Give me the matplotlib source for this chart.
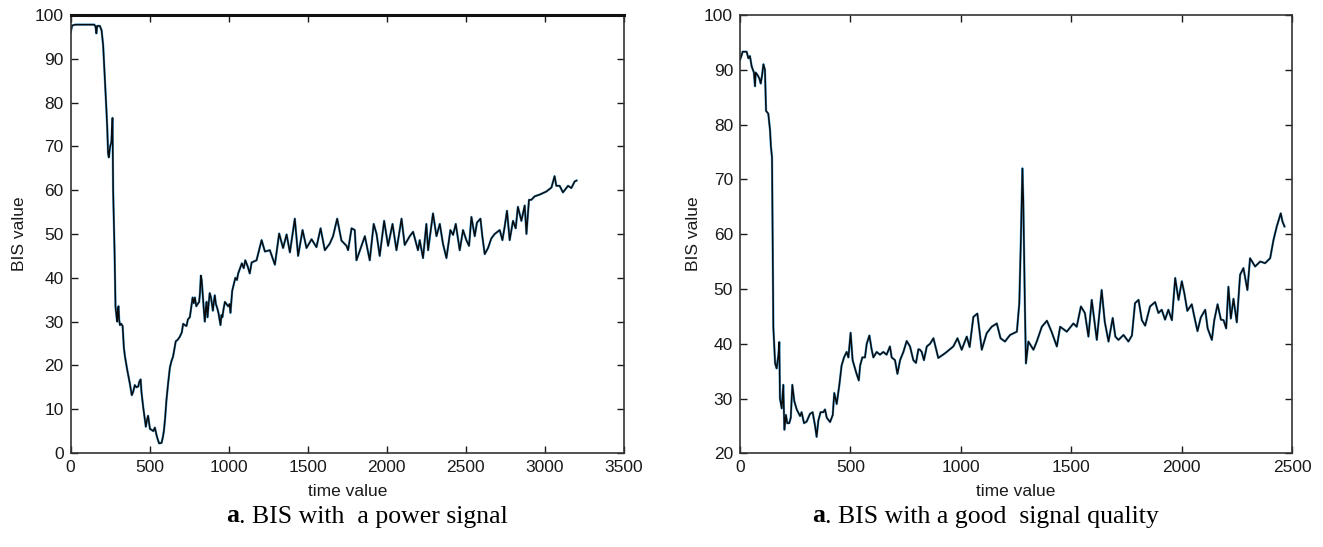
import matplotlib
matplotlib.use("Agg")
import matplotlib.pyplot as plt

# BIS con segnale di potenza (pannello sinistro)
t_power = [0, 10, 30, 150, 158, 163, 168, 185, 196, 206, 216, 227, 232, 237, 242, 250, 258, 265, 269, 278,
           284, 291, 295, 299, 303, 307, 312, 320, 329, 337, 344, 358, 375, 387, 396, 406, 416, 428, 434, 443,
           448, 459, 476, 483, 490, 496, 502, 512, 523, 533, 544, 552, 560, 575, 583, 590, 598, 606, 617, 628,
           638, 648, 665, 676, 690, 703, 712, 722, 733, 742, 754, 764, 772, 779, 786, 795, 803, 813, 818, 824,
           829, 834, 842, 849, 855, 860, 866, 873, 880, 888, 894, 900, 906, 912, 919, 928, 935, 942, 948, 954,
           960, 968, 976, 986, 996, 1005, 1011, 1018, 1022, 1032, 1042, 1052, 1060, 1070, 1083, 1095, 1105, 1120,
           1133, 1145, 1176, 1208, 1229, 1260, 1292, 1319, 1344, 1366, 1387, 1418, 1439, 1467, 1492, 1524, 1555,
           1581, 1608, 1639, 1660, 1686, 1713, 1745, 1755, 1777, 1797, 1808, 1840, 1861, 1892, 1917, 1935, 1955,
           1983, 2008, 2036, 2061, 2093, 2113, 2145, 2166, 2197, 2208, 2229, 2250, 2261, 2292, 2314, 2335, 2355,
           2377, 2402, 2419, 2436, 2461, 2482, 2503, 2520, 2535, 2556, 2570, 2592, 2604, 2619, 2640, 2661, 2682,
           2714, 2731, 2745, 2760, 2777, 2798, 2815, 2829, 2851, 2872, 2883, 2899, 2914, 2935, 2967, 3009, 3041,
           3061, 3072, 3093, 3114, 3146, 3167, 3188, 3200]
bis_power = [96, 97.6, 97.8, 97.8, 97.3, 95.8, 97.5, 97.5, 96.5, 93, 86, 78, 74, 68.4, 67.5, 70, 71, 76.5, 60, 46,
             33.4, 31, 30, 33, 33.5, 30.5, 29.2, 29.5, 29, 24, 22, 19, 15.8, 13.2, 14, 15.5, 15, 15.2, 16.2, 16.8,
             14, 10.5, 6, 7.5, 8.5, 7, 5.5, 5.3, 5, 5.8, 4, 3, 2.2, 2.3, 3.5, 5, 8, 12, 16, 19.5,
             21, 22, 25.5, 25.8, 26.5, 27.5, 29.5, 29.2, 29, 30.5, 31, 33.5, 35.5, 34.2, 35.5, 33.5, 34, 34.5, 36.5, 40.5,
             39.5, 37, 33, 30, 33, 34.5, 31, 34, 36.5, 35.5, 34, 32.5, 34.5, 36, 34, 33, 32, 30.5, 29.2, 31.5,
             31, 33, 34.5, 34, 33.5, 34, 32, 35, 37, 38.5, 40, 39.5, 41, 42, 43.3, 42.2, 44, 42.6,
             41, 43.5, 44, 48.6, 46, 46.3, 43, 50.1, 46.8, 49.9, 45.8, 53.5, 45, 50.9, 46.8, 48.8, 47,
             51.3, 46.3, 47.8, 49.5, 53.5, 48.5, 47.3, 46.3, 51.3, 50.9, 44, 47.3, 49.5, 44, 52.3, 50, 45,
             53, 47.3, 52.3, 46.3, 53.5, 47.5, 49.5, 50.5, 46.3, 48.6, 44.5, 52.3, 46.3, 54.7, 49.5, 52.3, 47.8,
             44.5, 50.9, 49.8, 52.3, 46.3, 50.9, 48.6, 47.3, 53.9, 49.5, 52.6, 53.5, 49.5, 45.4, 46.8, 49, 50,
             50.9, 48.6, 51.6, 55.3, 48.6, 53, 51.3, 56.2, 53, 56.5, 50, 57.8, 57.8, 58.6, 59, 59.7, 60.6,
             63.2, 61, 61, 59.5, 61, 60.5, 62, 62.2]

# BIS con buona qualita del segnale (pannello destro)
t_good = [0, 6, 12, 30, 38, 45, 53, 63, 68, 71, 80, 88, 94, 100, 106, 113, 118, 128, 136, 140,
          145, 151, 159, 166, 174, 178, 181, 189, 196, 201, 208, 214, 223, 230, 237, 246, 257, 272, 279, 290,
          302, 317, 329, 340, 347, 355, 365, 377, 385, 393, 408, 420, 427, 438, 450, 460, 471, 483, 491, 501,
          510, 521, 528, 538, 544, 554, 566, 574, 586, 596, 604, 619, 634, 649, 664, 679, 687, 702, 713, 725,
          740, 755, 770, 785, 797, 808, 815, 823, 833, 846, 861, 876, 898, 930, 966, 985, 1004, 1027, 1040, 1057,
          1075, 1095, 1117, 1140, 1163, 1180, 1200, 1223, 1254, 1265, 1272, 1279, 1283, 1290, 1295, 1306, 1329, 1344,
          1367, 1390, 1412, 1435, 1450, 1480, 1510, 1525, 1544, 1562, 1578, 1593, 1605, 1616, 1638, 1652, 1669, 1688,
          1700, 1714, 1737, 1759, 1775, 1789, 1805, 1820, 1835, 1857, 1880, 1895, 1910, 1925, 1940, 1956, 1971, 1986,
          2001, 2012, 2026, 2046, 2061, 2072, 2087, 2107, 2118, 2137, 2148, 2163, 2178, 2190, 2202, 2212, 2223, 2235,
          2250, 2265, 2280, 2298, 2310, 2333, 2356, 2378, 2401, 2416, 2431, 2449, 2457, 2466]
bis_good = [91.8, 92.5, 93.3, 93.3, 92.1, 92.5, 90.6, 89.5, 87, 89.5, 89, 88.4, 87.5, 89, 91, 90, 82.5, 82, 79, 76,
            74, 43, 36.4, 35.5, 38, 40.3, 30, 28.2, 32.5, 24.3, 27, 25.5, 25.5, 26.5, 32.5, 29.5, 28, 26.8, 27.5, 25.5,
            25.8, 27.2, 27.5, 25, 23, 26, 27.5, 27.5, 28, 26.5, 25.7, 27, 31, 29, 32.5, 36, 37.5, 38.5, 37.5, 42,
            37, 35.5, 34.5, 33.3, 36, 37.5, 37.5, 40, 41.5, 39, 37.5, 38.5, 38, 38.5, 38, 39.5, 37.5, 37, 34.5, 37,
            38.5, 40.5, 39.5, 37, 36.5, 39, 38.9, 38.5, 37, 39.5, 40, 41, 37.4, 38.3, 39.5, 41, 38.9, 41.3, 39.4, 44.9,
            45.5, 38.9, 41.9, 43.1, 43.7, 41, 40.4, 41.6, 42.2, 47.4, 58.9, 72, 66.2, 47.6, 36.4, 40.4, 38.9, 40.4,
            43.1, 44.2, 42.1, 39.5, 43.1, 42.2, 43.7, 43.1, 46.8, 45.6, 41.3, 48, 44.2, 40.7, 49.8, 44, 40.4, 44.7,
            41.3, 40.7, 41.6, 40.4, 41.5, 47.4, 48, 44.3, 43.3, 46.8, 47.6, 45.6, 46.2, 44.4, 46.2, 44.3, 52, 48,
            51.4, 49.3, 46, 47.2, 44.3, 42.3, 44.8, 46.2, 42.8, 40.7, 44.3, 47.2, 44.4, 44.3, 42.8, 50.4, 44.6, 48.2,
            43.9, 52.6, 53.8, 49.8, 55.6, 54.1, 55, 54.7, 55.6, 58.9, 61.4, 63.8, 62.3, 61.4]

xticks_power = [0, 500, 1000, 1500, 2000, 2500, 3000, 3500]
yticks_power = [0, 10, 20, 30, 40, 50, 60, 70, 80, 90, 100]
xticks_good = [0, 500, 1000, 1500, 2000, 2500]
yticks_good = [20, 30, 40, 50, 60, 70, 80, 90, 100]

plt.rcParams['font.family'] = ['Liberation Sans', 'DejaVu Sans']

W, H = 1323, 547
fig = plt.figure(figsize=(W / 100, H / 100), dpi=100)
ax1 = fig.add_axes([70.6 / W, (H - 453) / H, (624 - 70.6) / W, (453 - 15) / H])
ax2 = fig.add_axes([740 / W, (H - 453.3) / H, (1292 - 740) / W, (453.3 - 15) / H])


def stile(ax, t, y, xt, yt):
    # linea azzurra sotto, nera sopra
    ax.plot(t, y, color='#5ab0e6', lw=1.7)
    ax.plot(t, y, color='#0a0a0a', lw=1.1)
    ax.set_xlim(xt[0], xt[-1])
    ax.set_ylim(yt[0], yt[-1])
    ax.set_xticks(xt)
    ax.set_yticks(yt)
    ax.tick_params(direction='in', length=5, width=1, top=True, right=True,
                   labelsize=12.5, colors='#1a1a1a', pad=5)
    for s in ax.spines.values():
        s.set_linewidth(1.2)
        s.set_color('#333333')
    ax.set_xlabel('time value', fontsize=12.5, color='#1a1a1a', va='center')
    ax.set_ylabel('BIS value', fontsize=12.5, color='#1a1a1a', va='center')


stile(ax1, t_power, bis_power, xticks_power, yticks_power)
stile(ax2, t_good, bis_good, xticks_good, yticks_good)
ax1.spines['top'].set_linewidth(2.2)
ax1.spines['top'].set_color('#111111')

ax1.xaxis.set_label_coords(0.5, -(491 - 453) / 438)
ax2.xaxis.set_label_coords(0.5, -(491 - 453.3) / 438)
ax1.yaxis.set_label_coords((19 - 70.6) / 553.4, 0.5)
ax2.yaxis.set_label_coords((693 - 740) / 552, 0.5)

# didascalie con "a" in grassetto
for x0, testo in [(226, '. BIS with  a power signal'), (812, '. BIS with a good  signal quality')]:
    ta = fig.text(x0 / W, 1 - 516 / H, 'a', fontsize=18.5, weight='bold',
                  family='Liberation Serif', va='center', ha='left')
    ax1.annotate(testo, xy=(1, 0), xycoords=ta, va='bottom', ha='left',
                 fontsize=18.5, family='Liberation Serif', annotation_clip=False)

fig.savefig('out.png', dpi=100)
